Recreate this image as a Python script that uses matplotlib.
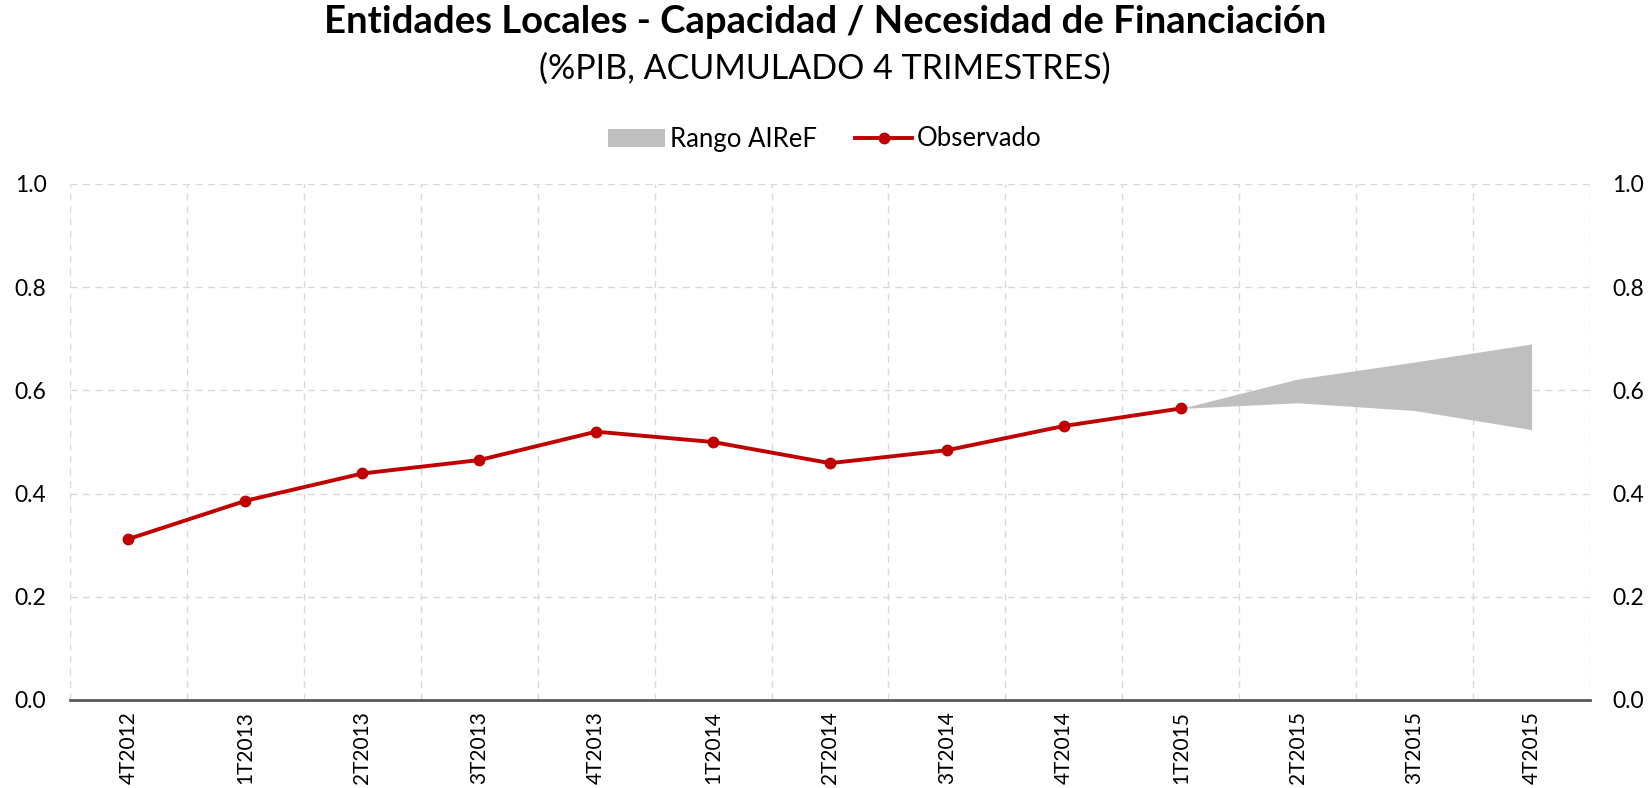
import matplotlib
matplotlib.use("Agg")
import matplotlib.pyplot as plt
from matplotlib.patches import Patch
from matplotlib.lines import Line2D
import numpy as np

plt.rcParams['font.family'] = ['Lato', 'DejaVu Sans']

categories = ["4T2012", "1T2013", "2T2013", "3T2013", "4T2013", "1T2014", "2T2014",
              "3T2014", "4T2014", "1T2015", "2T2015", "3T2015", "4T2015"]
observado = [0.312, 0.386, 0.439, 0.465, 0.520, 0.500, 0.459, 0.484, 0.531, 0.565]
rango_cats = ["1T2015", "2T2015", "3T2015", "4T2015"]
rango_low = [0.565, 0.576, 0.561, 0.524]
rango_high = [0.565, 0.622, 0.655, 0.690]
yticks = [0.0, 0.2, 0.4, 0.6, 0.8, 1.0]

fig = plt.figure(figsize=(16.5, 7.88), dpi=100)
ax = fig.add_axes([70/1650, 1 - 700/788, (1590-70)/1650, (700-184)/788])

x_all = np.arange(len(categories))
x_obs = x_all[:len(observado)]
x_r = np.array([categories.index(c) for c in rango_cats])

ax.fill_between(x_r, rango_low, rango_high, color="#bfbfbf", linewidth=0, zorder=2)
ax.plot(x_obs, observado, color="#c00000", linewidth=2.8, marker="o", markersize=7.5, zorder=3)

ax.set_xlim(-0.5, len(categories) - 0.5)
ax.set_ylim(0, 1.0)
ax.set_xticks(x_all)
ax.set_xticklabels(categories, rotation=90, fontsize=15)
ax.set_xticks(np.arange(-0.5, len(categories), 1.0), minor=True)
ax.set_yticks(yticks)
ax.set_yticklabels([f"{v:.1f}" for v in yticks], fontsize=16.5)
ax.tick_params(axis='both', which='both', length=0)
ax.tick_params(axis='x', pad=8)
ax.tick_params(axis='y', pad=17)
ax.grid(True, which='minor', axis='x', color="#d9d9d9", linestyle=(0, (5, 4)), linewidth=1)
ax.grid(True, which='major', axis='y', color="#d9d9d9", linestyle=(0, (5, 4)), linewidth=1)
ax.grid(False, which='major', axis='x')
for s in ['top', 'left', 'right']:
    ax.spines[s].set_visible(False)
ax.spines['bottom'].set_color("#595959")
ax.spines['bottom'].set_linewidth(2)
ax.spines['bottom'].set_zorder(4)

ax2 = ax.twinx()
ax2.set_ylim(0, 1.0)
ax2.set_yticks(yticks)
ax2.set_yticklabels([f"{v:.1f}" for v in yticks], fontsize=16.5)
ax2.tick_params(axis='y', length=0, pad=16)
for s in ['top', 'left', 'right', 'bottom']:
    ax2.spines[s].set_visible(False)

fig.text(0.5, 1 - 22/788, "Entidades Locales - Capacidad / Necesidad de Financiación",
         ha='center', va='center', fontsize=27.5, fontweight='bold')
fig.text(0.5, 1 - 69/788, "(%PIB, ACUMULADO 4 TRIMESTRES)",
         ha='center', va='center', fontsize=24.5)

handles = [Patch(facecolor="#bfbfbf", edgecolor='none', label="Rango AIReF"),
           Line2D([0], [0], color="#c00000", linewidth=2.8, marker="o", markersize=7.5, label="Observado")]
fig.legend(handles=handles, loc='center', bbox_to_anchor=(0.5, 1 - 139/788), ncol=2,
           frameon=False, fontsize=18.5, handlelength=2.2, handletextpad=0.2, columnspacing=1.5)

fig.savefig("out.png", dpi=100)
